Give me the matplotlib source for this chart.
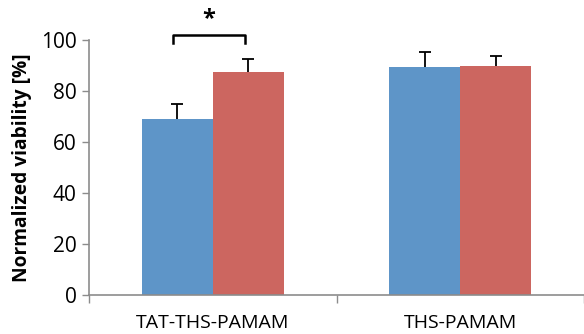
import matplotlib
matplotlib.use("Agg")
import matplotlib.pyplot as plt
import numpy as np

categories = ["TAT-THS-PAMAM", "THS-PAMAM"]
series_a = [69.0, 89.3]
series_a_err = [5.8, 6.1]
series_b = [87.6, 89.9]
series_b_err = [5.1, 3.8]
yticks = [0, 20, 40, 60, 80, 100]

plt.rcParams['font.family'] = ['Open Sans', 'DejaVu Sans']

fig = plt.figure(figsize=(5.84, 3.34), dpi=100)
ax = fig.add_axes([89/584, 1-295/334, 1-89/584, (295-40)/334])

x = np.arange(len(categories))
w = 0.287
blue = "#5E95C8"
red = "#CC6660"
ax.bar(x - w/2, series_a, w, color=blue, zorder=2)
ax.bar(x + w/2, series_b, w, color=red, zorder=2)
for xs, vals, errs in [(x - w/2, series_a, series_a_err), (x + w/2, series_b, series_b_err)]:
    vals = np.array(vals); errs = np.array(errs)
    ax.vlines(xs, vals, vals + errs, color="black", lw=1.3, zorder=3)
    ax.plot(xs, vals + errs, ls="none", marker="_", markersize=8, mew=1.3, color="black", zorder=3)

ax.set_xlim(-0.5, 1.5)
ax.set_ylim(0, 100)
ax.set_yticks(yticks)
ax.set_yticklabels([str(t) for t in yticks], fontsize=15)
ax.set_xticks([-0.5, 0.5, 1.5])
ax.set_xticklabels([])
ax.set_xticks(x, minor=True)
ax.set_xticklabels(categories, minor=True, fontsize=14)
ax.tick_params(axis='x', which='minor', length=0, pad=14)
ax.tick_params(axis='x', which='major', length=6, color="#8c8c8c", width=1)
ax.tick_params(axis='y', length=5, color="#8c8c8c", width=1, pad=4)

for s in ["top", "right"]:
    ax.spines[s].set_visible(False)
for s in ["left", "bottom"]:
    ax.spines[s].set_color("#8c8c8c")
    ax.spines[s].set_linewidth(1.2)

ax.set_ylabel("Normalized viability [%]", fontsize=13.8, fontweight="bold", labelpad=6)

# significance bracket
x0 = x[0] - 0.16
x1 = x[0] + 0.13
ax.plot([x0, x0, x1, x1], [98.8, 102.0, 102.0, 98.8], color="black", lw=1.8, clip_on=False, zorder=4)
ax.text((x0 + x1)/2, 103.3, "*", ha="center", va="bottom", fontsize=17, fontweight="bold", clip_on=False)

fig.savefig("out.png", dpi=100)
